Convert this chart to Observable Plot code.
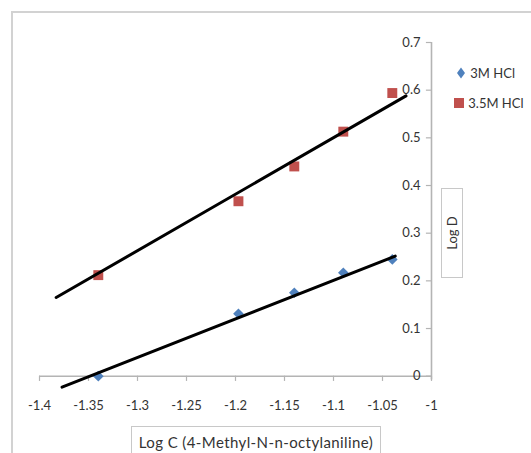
<!DOCTYPE html>
<html>
<head>
<meta charset="utf-8">
<script src="https://cdn.jsdelivr.net/npm/d3@7"></script>
<script src="https://cdn.jsdelivr.net/npm/@observablehq/plot@0.6"></script>
<style>
  html, body { margin: 0; padding: 0; background: #fff; }
  #wrap { position: relative; width: 531px; height: 453px; overflow: hidden; background: #fff;
          font-family: Lato, sans-serif; color: #333; }
  #border { position: absolute; left: 11px; top: 11px; width: 600px; height: 600px;
            border-left: 2px solid #d2d2d2; border-top: 2px solid #d2d2d2; }
  #chart { position: absolute; left: 0; top: 0; }
  .legend { position: absolute; font-size: 13px; white-space: nowrap; line-height: 16px; }
  .legend svg { vertical-align: -2px; }
  #ytitle { position: absolute; left: 441px; top: 188px; width: 20px; height: 88px; border: 1px solid #c8c8c8; }
  #ytitle span { position: absolute; left: 50%; top: 50%; transform: translate(-50%,-50%) rotate(-90deg);
                 font-size: 13px; white-space: nowrap; }
  #xtitle { position: absolute; left: 131px; top: 426px; width: 248px; height: 40px; border: 1px solid #c8c8c8;
            font-size: 15px; letter-spacing: 0.4px; text-align: center; line-height: 30px; white-space: nowrap; }
</style>
</head>
<body>
<div id="wrap">
  <div id="border"></div>
  <div id="chart"></div>
  <div class="legend" style="left:455px; top:65px;">
    <svg width="12" height="14"><path d="M6,1.5 L10,7 L6,12.5 L2,7 Z" fill="#4F81BD"/></svg><span id="lg0"></span>
  </div>
  <div class="legend" style="left:453px; top:95px;">
    <svg width="12" height="14"><rect x="1" y="2" width="10" height="10" fill="#C0504D"/></svg><span id="lg1"></span>
  </div>
  <div id="ytitle"><span>Log D</span></div>
  <div id="xtitle">Log C (4-Methyl-N-n-octylaniline)</div>
</div>
<script>
// ---- data ----
const seriesNames = ["3M HCl", "3.5M HCl"];
const logC = [-1.34, -1.197, -1.14, -1.09, -1.04];
const logD_3M = [0.0, 0.131, 0.175, 0.217, 0.245];
const logD_35M = [0.212, 0.367, 0.44, 0.513, 0.594];
// trendline end points as drawn in the reference
const trendX_3M = [-1.377, -1.037];
const trendY_3M = [-0.023, 0.252];
const trendX_35M = [-1.383, -1.026];
const trendY_35M = [0.165, 0.588];
const xTicks = [-1.4, -1.35, -1.3, -1.25, -1.2, -1.15, -1.1, -1.05, -1];
const xTickLabels = ["-1.4", "-1.35", "-1.3", "-1.25", "-1.2", "-1.15", "-1.1", "-1.05", "-1"];
const yTicks = [0, 0.1, 0.2, 0.3, 0.4, 0.5, 0.6, 0.7];
const yTickLabels = ["0", "0.1", "0.2", "0.3", "0.4", "0.5", "0.6", "0.7"];
const colors = ["#4F81BD", "#C0504D"];

document.getElementById("lg0").textContent = " " + seriesNames[0];
document.getElementById("lg1").textContent = " " + seriesNames[1];

const pts3 = logC.map((x, i) => ({x, y: logD_3M[i]}));
const pts35 = logC.map((x, i) => ({x, y: logD_35M[i]}));
const trend3 = trendX_3M.map((x, i) => ({x, y: trendY_3M[i]}));
const trend35 = trendX_35M.map((x, i) => ({x, y: trendY_35M[i]}));
const axisGray = "#b4b4b4";

const chart = Plot.plot({
  width: 531,
  height: 453,
  marginLeft: 39,
  marginRight: 100,
  marginTop: 42,
  marginBottom: 63,
  x: {domain: [-1.4, -1], axis: null},
  y: {domain: [-0.03, 0.7], axis: null},
  style: {background: "transparent", fontFamily: "Lato, sans-serif", color: "#333"},
  marks: [
    Plot.ruleY([0], {x1: -1.4, x2: -1, stroke: axisGray, strokeWidth: 1.6}),
    Plot.ruleX(xTicks, {x: d => d, y1: 0, y2: -0.011, stroke: axisGray, strokeWidth: 1.2}),
    Plot.text(xTicks, {x: d => d, y: 0, dy: 30, text: (d, i) => xTickLabels[i], fontSize: 13, fill: "#333"}),
    Plot.ruleX([-1], {y1: -0.008, y2: 0.7, stroke: axisGray, strokeWidth: 1.6}),
    Plot.ruleY(yTicks, {y: d => d, x1: -1.0052, x2: -1, stroke: axisGray, strokeWidth: 1.2}),
    Plot.text(yTicks, {x: -1, y: d => d, dx: -11, textAnchor: "end", text: (d, i) => yTickLabels[i], fontSize: 13, fill: "#333"}),
    Plot.dot(pts35, {x: "x", y: "y", symbol: "square", r: 5.6, fill: colors[1], stroke: "none"}),
    Plot.dot(pts3, {x: "x", y: "y", symbol: "diamond2", r: 4.8, fill: colors[0], stroke: "none"}),
    Plot.line(trend35, {x: "x", y: "y", stroke: "#000", strokeWidth: 3}),
    Plot.line(trend3, {x: "x", y: "y", stroke: "#000", strokeWidth: 3})
  ]
});
document.getElementById("chart").appendChild(chart);
</script>
</body>
</html>
